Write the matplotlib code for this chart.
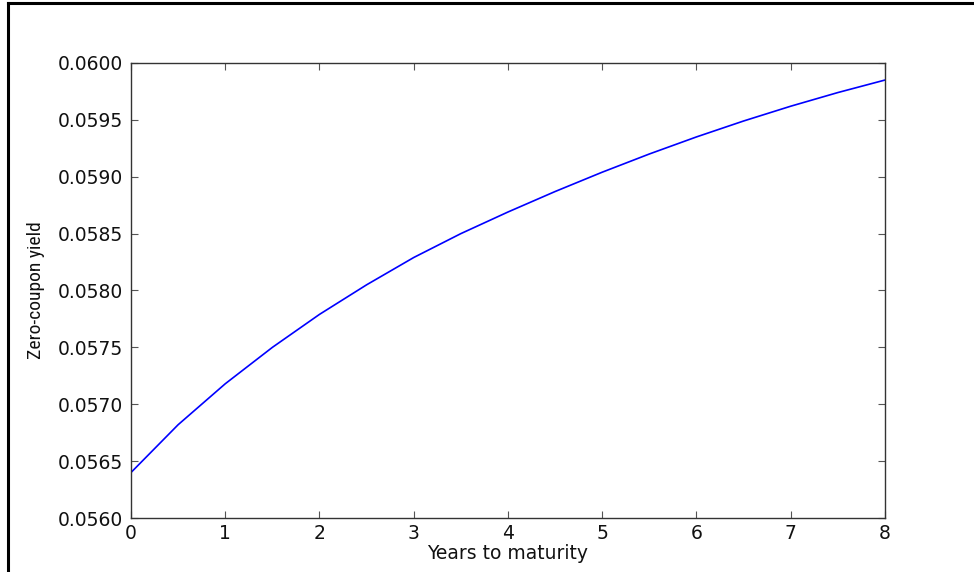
import matplotlib
matplotlib.use("Agg")
import matplotlib.pyplot as plt
from matplotlib import font_manager
from matplotlib.lines import Line2D

# Zero-coupon yield curve read at half-year steps
maturity_years = [0.0, 0.5, 1.0, 1.5, 2.0, 2.5, 3.0, 3.5, 4.0, 4.5,
                  5.0, 5.5, 6.0, 6.5, 7.0, 7.5, 8.0]
zero_yield = [0.05640, 0.05682, 0.05718, 0.05750, 0.05779, 0.05805,
              0.05829, 0.05850, 0.05869, 0.05887, 0.05904, 0.05920,
              0.05935, 0.05949, 0.05962, 0.05974, 0.05985]

x_ticks = [0, 1, 2, 3, 4, 5, 6, 7, 8]
y_ticks = [0.0560, 0.0565, 0.0570, 0.0575, 0.0580, 0.0585,
           0.0590, 0.0595, 0.0600]
y_tick_labels = [f"{v:.4f}" for v in y_ticks]

plt.rcParams["font.family"] = ["DejaVu Sans"]

# pick a narrow face for the y label if one is installed
available = {f.name for f in font_manager.fontManager.ttflist}
narrow_props = dict(family="DejaVu Sans", stretch="condensed")
for cand in ["Liberation Sans Narrow", "Roboto Condensed", "Open Sans Condensed"]:
    if cand in available:
        narrow_props = dict(family=cand)
        break

fig = plt.figure(figsize=(9.74, 5.72), dpi=100)
ax = fig.add_axes([0.1345, 0.0944, 0.9086 - 0.1345, 0.8899 - 0.0944])

ax.plot(maturity_years, zero_yield, color="#0000ff", linewidth=1.2)

ax.set_xlim(0, 8)
ax.set_ylim(0.0560, 0.0600)
ax.set_xticks(x_ticks)
ax.set_xticklabels([str(t) for t in x_ticks])
ax.set_yticks(y_ticks)
ax.set_yticklabels(y_tick_labels)

ax.tick_params(direction="in", length=5, width=0.8, color="#555555",
               top=True, right=True, labelsize=13.5, pad=6,
               labelcolor="#111111")
ax.tick_params(axis="x", pad=4)
for s in ax.spines.values():
    s.set_color("#333333")
    s.set_linewidth(1.0)

ax.set_xlabel("Years to maturity", fontsize=13.5, color="#111111", labelpad=1)
ax.set_ylabel("Zero-coupon yield", fontsize=14, color="#111111",
              labelpad=9, **narrow_props)

# frame lines along the top and left edges of the figure
fig.add_artist(Line2D([8 / 974, 1.0], [1 - 3 / 572, 1 - 3 / 572],
                      transform=fig.transFigure, color="black", linewidth=2.2))
fig.add_artist(Line2D([8 / 974, 8 / 974], [1 - 3 / 572, 0.0],
                      transform=fig.transFigure, color="black", linewidth=2.2))

fig.savefig("out.png", dpi=100, facecolor="white")
